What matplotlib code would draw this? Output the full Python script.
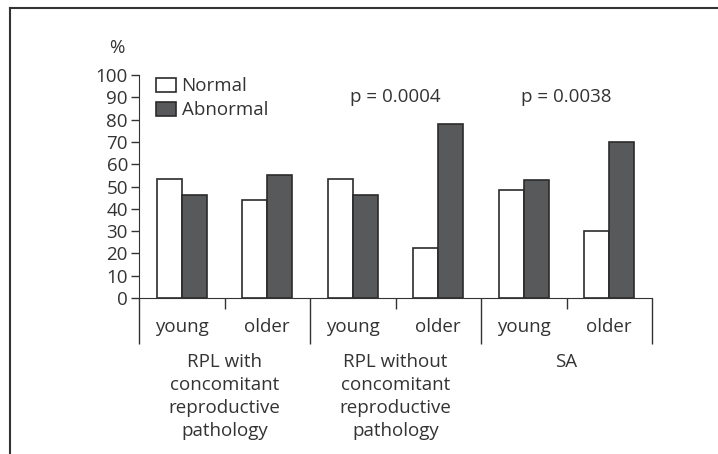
import matplotlib
matplotlib.use('Agg')
import matplotlib.pyplot as plt
from matplotlib.lines import Line2D
from matplotlib.patches import Patch
import numpy as np

plt.rcParams['font.family'] = ['Open Sans', 'DejaVu Sans']

# data
categories = ['young', 'older', 'young', 'older', 'young', 'older']
groups = ['RPL with\nconcomitant\nreproductive\npathology',
          'RPL without\nconcomitant\nreproductive\npathology',
          'SA']
normal = [53.3, 44.0, 53.3, 22.2, 48.4, 30.1]
abnormal = [46.4, 55.1, 46.3, 78.2, 52.8, 70.0]
p_labels = ['p = 0.0004', 'p = 0.0038']
p_groups = [1, 2]

txt = '#333333'
dark = '#57595b'
edge = '#2b2b2b'
fs = 13.5

fig = plt.figure(figsize=(7.18, 4.54), dpi=100)
ax = fig.add_axes([0.1936, 0.3436, 0.7145, 0.4912])

x = np.arange(len(categories))
w = 0.29
ax.bar(x - w / 2, normal, w, color='white', edgecolor=edge, linewidth=1.2, label='Normal')
ax.bar(x + w / 2, abnormal, w, color=dark, edgecolor=edge, linewidth=1.2, label='Abnormal')

ax.set_xlim(-0.5, 5.5)
ax.set_ylim(0, 100)
ax.set_yticks(range(0, 101, 10))
ax.tick_params(axis='y', length=6, width=1, color=txt, labelsize=fs, labelcolor=txt, pad=2)
for s in ['top', 'right']:
    ax.spines[s].set_visible(False)
ax.spines['left'].set_color(txt)
ax.spines['bottom'].set_color(txt)

# group dividers (long) and category separators (short)
ax.set_xticks([-0.5, 1.5, 3.5, 5.5])
ax.set_xticks([0.5, 2.5, 4.5], minor=True)
ax.tick_params(axis='x', which='major', length=33, width=1, color=txt, labelbottom=False)
ax.tick_params(axis='x', which='minor', length=8, width=1, color=txt, labelbottom=False)

tr = ax.get_xaxis_transform()
for xi, c in zip(x, categories):
    ax.text(xi, -0.13, c, transform=tr, ha='center', va='center', fontsize=fs, color=txt)
for gi, g in enumerate(groups):
    ax.text(2 * gi + 0.5, -0.245, g, transform=tr, ha='center', va='top', fontsize=fs,
            color=txt, linespacing=1.36)

for gi, lab in zip(p_groups, p_labels):
    ax.text(2 * gi + 0.5, 90, lab, ha='center', va='center', fontsize=fs, color=txt)

ax.text(-0.5 - 0.255, 112, '%', ha='center', va='center', fontsize=fs, color=txt)

handles = [Patch(facecolor='white', edgecolor=edge, linewidth=1.2),
           Patch(facecolor=dark, edgecolor=edge, linewidth=1.2)]
leg = ax.legend(handles, ['Normal', 'Abnormal'], loc='upper left', bbox_to_anchor=(0.033, 0.99),
                frameon=False, fontsize=fs, handlelength=1.07, handleheight=0.8,
                handletextpad=0.3, labelspacing=0.33, borderpad=0, borderaxespad=0)
for t in leg.get_texts():
    t.set_color(txt)

# outer frame (top and left only)
fig.add_artist(Line2D([0.014, 1.0], [0.982, 0.982], transform=fig.transFigure, color=txt, lw=1.5))
fig.add_artist(Line2D([0.014, 0.014], [0.0, 0.982], transform=fig.transFigure, color=txt, lw=1.5))

fig.savefig('out.png', dpi=100)
